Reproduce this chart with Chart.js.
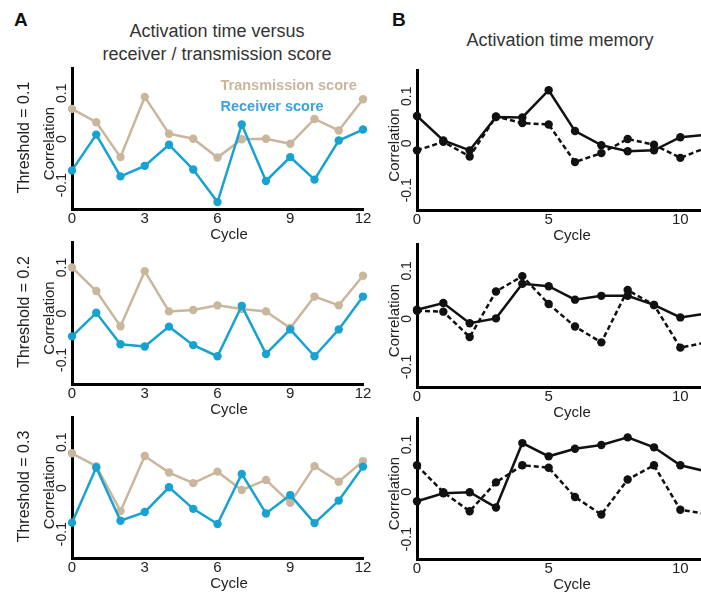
<!DOCTYPE html>
<html>
<head>
<meta charset="utf-8">
<script src="https://cdn.jsdelivr.net/npm/chart.js@4/dist/chart.umd.min.js"></script>
<style>
  html, body { margin: 0; padding: 0; background: #fff; }
  body { position: relative; width: 701px; height: 594px; overflow: hidden; }
  canvas { position: absolute; }
  .txt { position: absolute; font-family: "Liberation Sans", Arial, sans-serif; color: #333; white-space: nowrap; }
  .panel-letter { font-weight: bold; font-size: 19px; color: #111; }
  .head { font-size: 18px; text-align: center; line-height: 23px; }
</style>
</head>
<body>
<div class="txt panel-letter" style="left:14px; top:9px;">A</div>
<div class="txt panel-letter" style="left:392px; top:9px;">B</div>
<div class="txt head" style="left:67px; width:300px; top:20px;">Activation time versus<br>receiver / transmission score</div>
<div class="txt head" style="left:410px; width:300px; top:29px;">Activation time memory</div>

<script>
// Cycle index shared by every panel
const cycles = [0, 1, 2, 3, 4, 5, 6, 7, 8, 9, 10, 11, 12];

// Tick labels
const leftXTicks = [0, 3, 6, 9, 12];
const rightXTicks = [0, 5, 10];
const yTicks = [-0.1, 0, 0.1];

// Threshold row labels
const thresholds = ['Threshold = 0.1', 'Threshold = 0.2', 'Threshold = 0.3'];

// Activation time vs. transmission / receiver score correlations
const transmissionT01 = [0.066, 0.037, -0.039, 0.092, 0.012, 0.001, -0.040, 0.000, 0.001, -0.010, 0.044, 0.019, 0.087];
const receiverT01     = [-0.068, 0.010, -0.081, -0.058, -0.012, -0.066, -0.137, 0.032, -0.091, -0.039, -0.088, -0.003, 0.021];
const transmissionT02 = [0.100, 0.049, -0.027, 0.092, 0.005, 0.008, 0.018, 0.010, 0.005, -0.031, 0.037, 0.018, 0.082];
const receiverT02     = [-0.049, 0.002, -0.066, -0.071, -0.028, -0.068, -0.092, 0.017, -0.087, -0.034, -0.092, -0.034, 0.037];
const transmissionT03 = [0.076, 0.048, -0.050, 0.070, 0.034, 0.011, 0.036, -0.004, 0.018, -0.032, 0.048, 0.014, 0.059];
const receiverT03     = [-0.075, 0.045, -0.071, -0.052, 0.002, -0.045, -0.078, 0.031, -0.055, -0.015, -0.076, -0.027, 0.047];

// Activation time memory correlations (two series per threshold)
const memoryFirstT01  = [0.058, 0.006, -0.015, 0.056, 0.055, 0.113, 0.026, -0.004, -0.017, -0.015, 0.013, 0.018];
const memorySecondT01 = [-0.015, 0.003, -0.028, 0.057, 0.043, 0.040, -0.040, -0.021, 0.009, -0.003, -0.031, -0.009];
const memoryFirstT02  = [0.019, 0.033, -0.009, 0.001, 0.073, 0.068, 0.040, 0.048, 0.048, 0.029, 0.003, 0.011];
const memorySecondT02 = [0.017, 0.015, -0.038, 0.057, 0.089, 0.031, -0.016, -0.049, 0.060, 0.029, -0.060, -0.049];
const memoryFirstT03  = [-0.020, -0.003, -0.001, -0.033, 0.103, 0.075, 0.091, 0.099, 0.115, 0.094, 0.056, 0.043];
const memorySecondT03 = [0.056, -0.001, -0.041, 0.020, 0.056, 0.051, -0.011, -0.048, 0.026, 0.056, -0.038, -0.047];

const FONT = '"Liberation Sans", Arial, sans-serif';
const TAN = '#c9b69c';
const BLUE = '#17a2d2';
const TEXT = '#222';

// Draws the rotated y tick labels, axis titles, row label and legend
const panelText = {
  id: 'panelText',
  afterDraw(chart, args, opts) {
    const ctx = chart.ctx;
    const a = chart.chartArea;
    const ys = chart.scales.y;
    const cy = (a.top + a.bottom) / 2;
    const rot = (text, x, y, font) => {
      ctx.save();
      ctx.translate(x, y);
      ctx.rotate(-Math.PI / 2);
      ctx.font = font;
      ctx.fillStyle = TEXT;
      ctx.textAlign = 'center';
      ctx.textBaseline = 'middle';
      ctx.fillText(text, 0, 0);
      ctx.restore();
    };
    yTicks.forEach(v => {
      const label = v === 0 ? '0' : (v < 0 ? '-' : '') + Math.abs(v).toString();
      rot(label, a.left - 9.5, ys.getPixelForValue(v), '14px ' + FONT);
    });
    rot('Correlation', a.left - 22.5, cy + 5, '15px ' + FONT);
    if (opts.rowLabel) rot(opts.rowLabel, a.left - 47.5, cy - 1, '16px ' + FONT);

    ctx.save();
    ctx.font = '15px ' + FONT;
    ctx.fillStyle = TEXT;
    ctx.textAlign = 'center';
    ctx.textBaseline = 'middle';
    ctx.fillText('Cycle', opts.cycleX, a.bottom + 26);
    ctx.restore();

    if (opts.legend) {
      ctx.save();
      ctx.font = 'bold 14.5px ' + FONT;
      ctx.textAlign = 'left';
      ctx.textBaseline = 'alphabetic';
      opts.legend.forEach(item => {
        ctx.fillStyle = item.color;
        ctx.fillText(item.text, item.x, item.y);
      });
      ctx.restore();
    }
  }
};

function makePanel(p) {
  const canvas = document.createElement('canvas');
  const padTop = 20, xAxisH = 45, yAxisW = 72, padRight = 15;
  const areaW = p.right - p.left;
  canvas.width = yAxisW + areaW + padRight;
  canvas.height = padTop + (p.bottom - p.top) + xAxisH;
  const cx = p.left - yAxisW;
  const cyTop = p.top - padTop;
  canvas.style.left = cx + 'px';
  canvas.style.top = cyTop + 'px';
  document.body.appendChild(canvas);

  const datasets = p.series.map(s => ({
    data: s.values.map((v, i) => ({ x: cycles[i], y: v })),
    borderColor: s.color,
    backgroundColor: s.color,
    pointBackgroundColor: s.color,
    pointBorderColor: s.color,
    borderWidth: 2.5,
    borderDash: s.dash || [],
    pointRadius: 4.2,
    pointBorderWidth: 0,
    pointHoverRadius: 4.2,
    tension: 0,
    clip: 8,
    order: s.order
  }));

  new Chart(canvas, {
    type: 'line',
    data: { datasets },
    options: {
      responsive: false,
      animation: false,
      events: [],
      layout: { padding: { left: 0, top: padTop, right: padRight, bottom: 0 } },
      plugins: {
        legend: { display: false },
        tooltip: { enabled: false },
        panelText: {
          rowLabel: p.rowLabel,
          cycleX: p.cycleX - cx,
          legend: p.legend ? p.legend.map(l => ({ ...l, x: l.x - cx, y: l.y - cyTop })) : null
        }
      },
      scales: {
        x: {
          type: 'linear',
          min: 0,
          max: p.xMax,
          grid: { display: false, drawTicks: false },
          border: { display: true, color: '#000', width: 3 },
          ticks: { font: { family: FONT, size: 15 }, color: TEXT, padding: 1, maxRotation: 0, autoSkip: false, includeBounds: false },
          afterBuildTicks: s => { s.ticks = p.xTicks.map(v => ({ value: v })); },
          afterFit: s => { s.height = xAxisH; }
        },
        y: {
          type: 'linear',
          min: p.yMin,
          max: p.yMax,
          grid: { display: false, drawTicks: false },
          border: { display: true, color: '#000', width: 3 },
          ticks: { display: false },
          afterFit: s => { s.width = yAxisW; }
        }
      }
    },
    plugins: [panelText]
  });
}

const leftRows = [
  { top: 68, bottom: 209, trans: transmissionT01, recv: receiverT01 },
  { top: 242, bottom: 384, trans: transmissionT02, recv: receiverT02 },
  { top: 417, bottom: 558, trans: transmissionT03, recv: receiverT03 }
];
const rightRows = [
  { top: 70, bottom: 210, first: memoryFirstT01, second: memorySecondT01 },
  { top: 244, bottom: 387, first: memoryFirstT02, second: memorySecondT02 },
  { top: 418, bottom: 559, first: memoryFirstT03, second: memorySecondT03 }
];

leftRows.forEach((r, i) => {
  makePanel({
    left: 72, right: 363, top: r.top, bottom: r.bottom,
    xMax: 12, xTicks: leftXTicks, yMin: -0.152, yMax: 0.155,
    rowLabel: thresholds[i], cycleX: 229,
    legend: i === 0 ? [
      { text: 'Transmission score', color: TAN, x: 220.5, y: 90 },
      { text: 'Receiver score', color: '#3aa2dc', x: 220.5, y: 111 }
    ] : null,
    series: [
      { values: r.recv, color: BLUE, order: 0 },
      { values: r.trans, color: TAN, order: 1 }
    ]
  });
});

rightRows.forEach((r, i) => {
  makePanel({
    left: 417, right: 733, top: r.top, bottom: r.bottom,
    xMax: 12, xTicks: rightXTicks, yMin: -0.142, yMax: 0.156,
    rowLabel: null, cycleX: 572,
    series: [
      { values: r.first, color: '#111', order: 0 },
      { values: r.second, color: '#111', dash: [5, 3], order: 1 }
    ]
  });
});
</script>
</body>
</html>
